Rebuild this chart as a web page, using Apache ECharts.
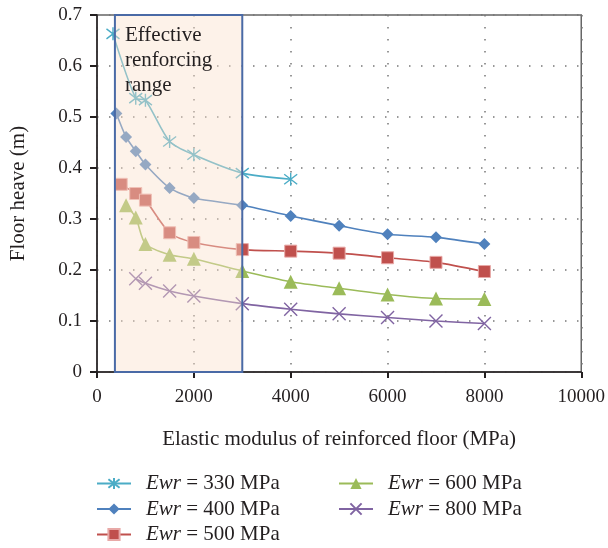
<!DOCTYPE html>
<html>
<head>
<meta charset="utf-8">
<script src="https://cdn.jsdelivr.net/npm/echarts@6/dist/echarts.min.js"></script>
<style>html,body{margin:0;padding:0;background:#fff}#c{width:608px;height:548px}</style>
</head>
<body>
<div id="c"></div>
<script>
// ---- data ----
const seriesNames = ['Ewr = 330 MPa', 'Ewr = 400 MPa', 'Ewr = 500 MPa', 'Ewr = 600 MPa', 'Ewr = 800 MPa'];
const x330 = [330, 800, 1000, 1500, 2000, 3000, 4000];
const y330 = [0.663, 0.537, 0.533, 0.452, 0.426, 0.390, 0.378];
const x400 = [400, 600, 800, 1000, 1500, 2000, 3000, 4000, 5000, 6000, 7000, 8000];
const y400 = [0.507, 0.461, 0.433, 0.407, 0.361, 0.341, 0.327, 0.306, 0.287, 0.270, 0.264, 0.251];
const x500 = [500, 800, 1000, 1500, 2000, 3000, 4000, 5000, 6000, 7000, 8000];
const y500 = [0.368, 0.350, 0.337, 0.273, 0.254, 0.240, 0.237, 0.233, 0.224, 0.215, 0.197];
const x600 = [600, 800, 1000, 1500, 2000, 3000, 4000, 5000, 6000, 7000, 8000];
const y600 = [0.327, 0.303, 0.251, 0.230, 0.222, 0.198, 0.177, 0.164, 0.152, 0.144, 0.143];
const x800 = [800, 1000, 1500, 2000, 3000, 4000, 5000, 6000, 7000, 8000];
const y800 = [0.183, 0.174, 0.159, 0.149, 0.134, 0.123, 0.114, 0.107, 0.100, 0.095];
const rangeStart = 370, rangeEnd = 3000;
const rangeLabel = 'Effective\nrenforcing\nrange';
const xTicks = {min: 0, max: 10000, interval: 2000};
const yTicks = {min: 0, max: 0.7, interval: 0.1};

const colors = ['#4bacc6', '#4f81bd', '#c0504d', '#9bbb59', '#8064a2'];
const asterisk = 'path://M0,0L10,10M10,0L0,10M5,-1.5L5,11.5';
const cross = 'path://M0,0L10,10M10,0L0,10';
const serif = '"Liberation Serif", "DejaVu Serif", serif';
const ink = '#231f20';

function pair(xs, ys) { return xs.map((x, i) => [x, ys[i]]); }
const datasets = [pair(x330, y330), pair(x400, y400), pair(x500, y500), pair(x600, y600), pair(x800, y800)];
const symbols = [asterisk, 'diamond', 'rect', 'triangle', cross];
const sizes = [13, 12, 12, 14, 13];

const series = datasets.map((d, i) => {
  const stroke = (i === 0 || i === 4);
  return {
    name: seriesNames[i], type: 'line', data: d, smooth: 0.25,
    symbol: symbols[i], symbolSize: sizes[i], z: 3,
    lineStyle: {color: colors[i], width: 1.6},
    itemStyle: stroke ? {color: colors[i], borderColor: colors[i], borderWidth: 1.4}
                      : (i === 2 ? {color: colors[i], borderColor: '#e8a9a7', borderWidth: 1} : {color: colors[i]}),
    emphasis: {disabled: true}
  };
});
series.push({
  type: 'line', data: [], z: 8, silent: true,
  markArea: {
    silent: true, z: 10,
    itemStyle: {color: 'rgba(250,225,203,0.42)', borderColor: '#4a6aa6', borderWidth: 2},
    label: {show: true, position: [11, 9], formatter: rangeLabel, align: 'left', verticalAlign: 'top',
      fontFamily: serif, fontSize: 21, lineHeight: 25, color: ink},
    data: [[{xAxis: rangeStart}, {xAxis: rangeEnd}]]
  }
});

const legendFmt = n => n.replace('Ewr', '{i|Ewr}');
const legendBase = {
  orient: 'vertical', itemWidth: 34, itemHeight: 14, itemGap: 4.5, padding: 0, height: 100,
  formatter: legendFmt, selectedMode: false,
  textStyle: {fontFamily: serif, fontSize: 21, color: ink, padding: [0, 0, 0, 10],
    rich: {i: {fontStyle: 'italic', fontFamily: serif, fontSize: 21, color: ink}}}
};

const chart = echarts.init(document.getElementById('c'), null, {renderer: 'canvas'});
chart.setOption({
  animation: false,
  backgroundColor: '#fff',
  color: colors,
  grid: {left: 96, right: 26, top: 15, bottom: 176, show: true, borderColor: '#666', borderWidth: 1.5, backgroundColor: 'transparent'},
  legend: [
    Object.assign({}, legendBase, {data: seriesNames.slice(0, 3), left: 96, top: 473}),
    Object.assign({}, legendBase, {data: seriesNames.slice(3), left: 338, top: 473})
  ],
  xAxis: {
    type: 'value', min: xTicks.min, max: xTicks.max, interval: xTicks.interval,
    name: 'Elastic modulus of reinforced floor (MPa)', nameLocation: 'middle', nameGap: 57,
    nameTextStyle: {fontFamily: serif, fontSize: 21, color: ink},
    axisLine: {show: true, onZero: false, lineStyle: {color: ink, width: 1.5}},
    axisTick: {show: true, length: 6, lineStyle: {color: ink, width: 2}},
    axisLabel: {fontFamily: serif, fontSize: 19, color: ink, margin: 16, formatter: v => String(v)},
    splitLine: {show: true, lineStyle: {color: '#777', width: 1.5, type: [1.5, 10.5]}}
  },
  yAxis: {
    type: 'value', min: yTicks.min, max: yTicks.max, interval: yTicks.interval,
    name: 'Floor heave (m)', nameLocation: 'middle', nameGap: 68, nameRotate: 90,
    nameTextStyle: {fontFamily: serif, fontSize: 21, color: ink},
    axisLine: {show: true, lineStyle: {color: ink, width: 1.5}},
    axisTick: {show: true, length: 7, lineStyle: {color: ink, width: 2}},
    axisLabel: {fontFamily: serif, fontSize: 19, color: ink, margin: 15, formatter: v => String(v)},
    splitLine: {show: true, lineStyle: {color: '#777', width: 1.5, type: [1.5, 10.5]}}
  },
  series: series
});
</script>
</body>
</html>
